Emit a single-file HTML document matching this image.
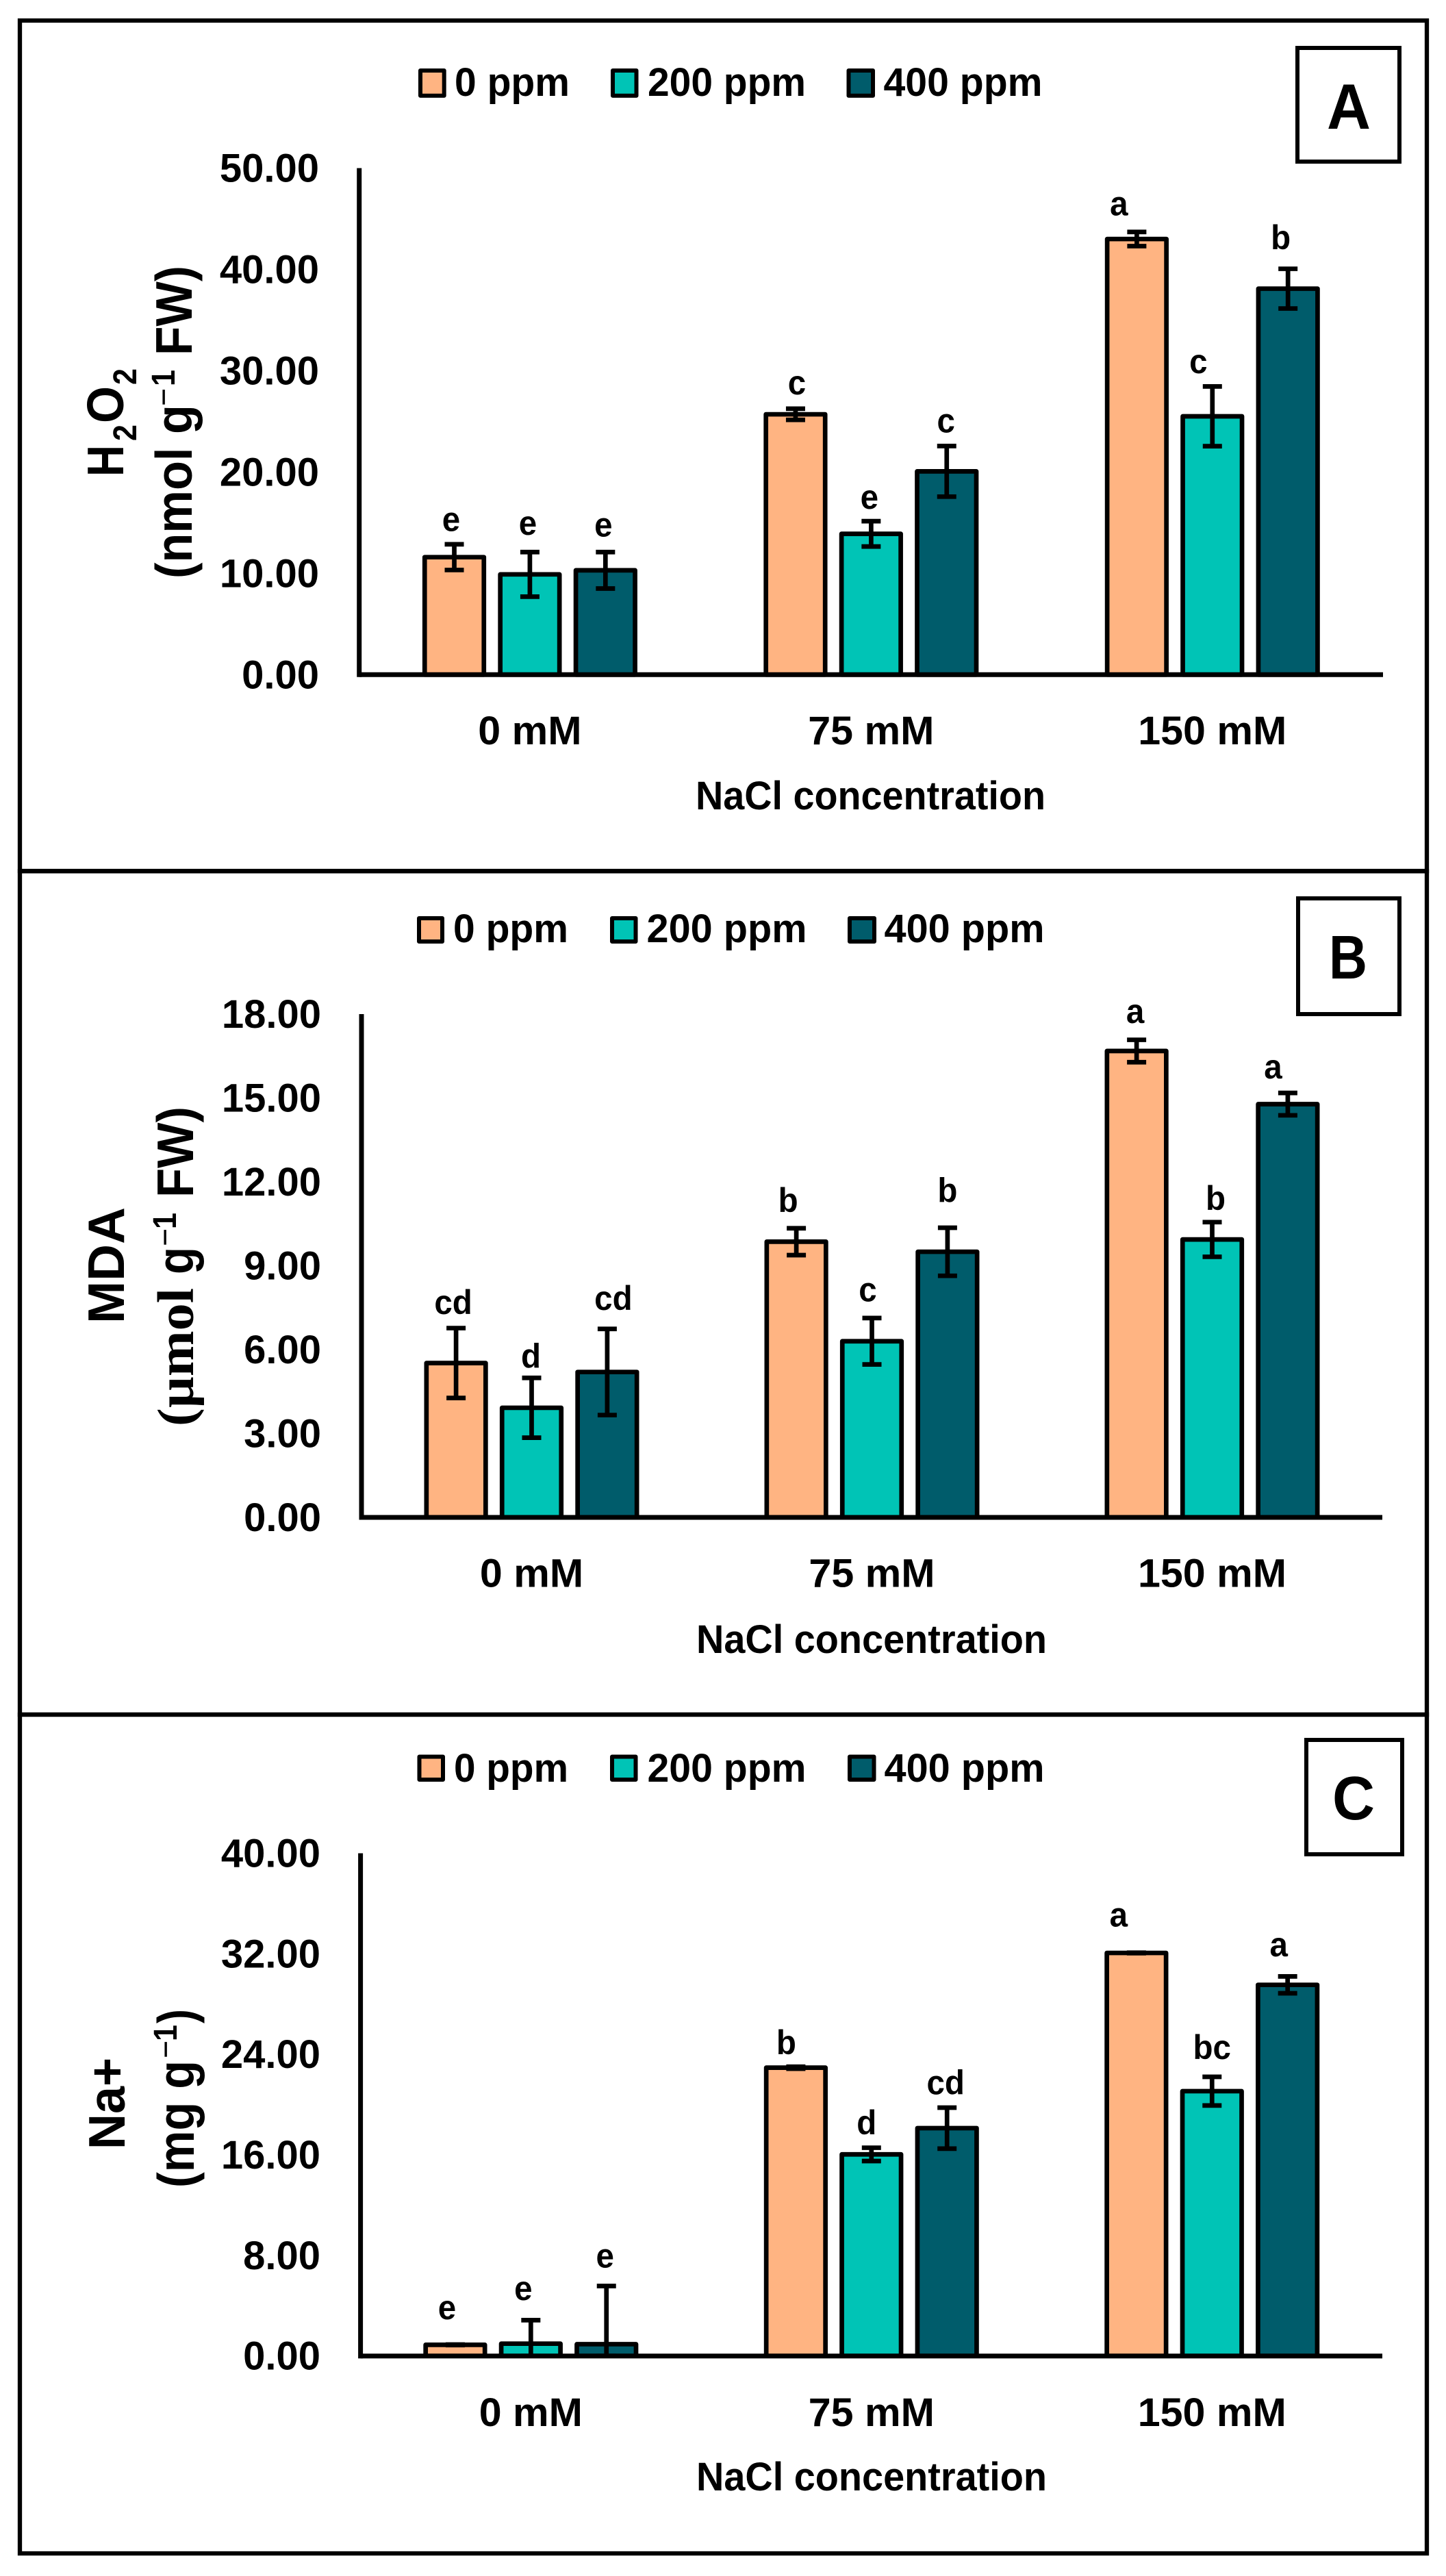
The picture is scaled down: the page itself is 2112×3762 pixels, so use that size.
<!DOCTYPE html>
<html lang="en">
<head>
<meta charset="utf-8">
<title>H2O2, MDA and Na+ under NaCl concentration</title>
<style>
html,body{margin:0;padding:0;background:#fff;}
svg{display:block;}
text{font-family:"Liberation Sans",sans-serif;font-weight:bold;fill:#000;}
</style>
</head>
<body>
<svg id="figure" xmlns="http://www.w3.org/2000/svg" width="2112" height="3762" viewBox="0 0 2112 3762"></svg>
<script>
const categories = ['0 mM', '75 mM', '150 mM'];
const seriesNames = ['0 ppm', '200 ppm', '400 ppm'];

const h2o2Ticks = ['0.00', '10.00', '20.00', '30.00', '40.00', '50.00'];
const h2o2Ppm0 = [11.6, 25.7, 43.0];
const h2o2Ppm200 = [9.9, 13.9, 25.5];
const h2o2Ppm400 = [10.3, 20.07, 38.1];
const h2o2Err0 = [1.27, 0.55, 0.7];
const h2o2Err200 = [2.2, 1.25, 2.95];
const h2o2Err400 = [1.8, 2.5, 1.96];
const h2o2Letters0 = ['e', 'c', 'a'];
const h2o2Letters200 = ['e', 'e', 'c'];
const h2o2Letters400 = ['e', 'c', 'b'];

const mdaTicks = ['0.00', '3.00', '6.00', '9.00', '12.00', '15.00', '18.00'];
const mdaPpm0 = [5.52, 9.86, 16.68];
const mdaPpm200 = [3.92, 6.3, 9.94];
const mdaPpm400 = [5.2, 9.5, 14.78];
const mdaErr0 = [1.25, 0.48, 0.4];
const mdaErr200 = [1.07, 0.83, 0.62];
const mdaErr400 = [1.54, 0.86, 0.4];
const mdaLetters0 = ['cd', 'b', 'a'];
const mdaLetters200 = ['d', 'c', 'b'];
const mdaLetters400 = ['cd', 'b', 'a'];

const naTicks = ['0.00', '8.00', '16.00', '24.00', '32.00', '40.00'];
const naPpm0 = [0.89, 22.94, 32.07];
const naPpm200 = [0.98, 16.04, 21.07];
const naPpm400 = [0.94, 18.13, 29.53];
const naErr0 = [0.02, 0.08, 0.02];
const naErr200 = [1.87, 0.53, 1.14];
const naErr400 = [4.63, 1.63, 0.67];
const naLetters0 = ['e', 'b', 'a'];
const naLetters200 = ['e', 'd', 'bc'];
const naLetters400 = ['e', 'cd', 'a'];

const colors = ['#FFB482', '#00C4B6', '#005C6B'];
const SVGNS = 'http://www.w3.org/2000/svg';
const root = document.getElementById('figure');

function shape(parent, tag, name, attrs) {
  const el = document.createElementNS(SVGNS, tag);
  
  
  for (const k in attrs) el.setAttribute(k, attrs[k]);
  parent.appendChild(el);
  return el;
}
function group(parent, name) {
  const el = document.createElementNS(SVGNS, 'g');
  
  
  parent.appendChild(el);
  return el;
}
function label(parent, name, str, x, y, size, o) {
  o = o || {};
  const el = document.createElementNS(SVGNS, 'text');
  
  
  el.setAttribute('x', x);
  el.setAttribute('y', y);
  el.setAttribute('font-size', size);
  if (o.anchor) el.setAttribute('text-anchor', o.anchor);
  if (o.weight) el.style.fontWeight = o.weight;
  if (o.family) el.style.fontFamily = o.family;
  if (o.rotate) el.setAttribute('transform', 'rotate(-90 ' + x + ' ' + y + ')');
  el.textContent = str;
  parent.appendChild(el);
  if (o.len || o.fit) {
    const len = o.len || el.getComputedTextLength() * o.fit;
    el.setAttribute('textLength', len);
    el.setAttribute('lengthAdjust', 'spacingAndGlyphs');
  }
  return el;
}

const panels = [
  {
    id: 'a', letter: 'A',
    frame: [29, 30, 2084, 1272],
    box: [1895, 70, 2044, 236], letterX: 1970, letterY: 188, letterSize: 94, letterLen: 64,
    x0: 524.7, x1: 2020, yTop: 245.5, yBottom: 985.3, yMax: 50,
    ticks: h2o2Ticks, tickRight: 466,
    values: [h2o2Ppm0, h2o2Ppm200, h2o2Ppm400],
    errors: [h2o2Err0, h2o2Err200, h2o2Err400],
    letters: [h2o2Letters0, h2o2Letters200, h2o2Letters400],
    letterDx: [[-4.5, 2, -26], [-3, -2.5, -20.5], [-3, -1, -10.5]],
    letterGap: [[19.5, 21, 24], [25.5, 18, 19.5], [22.7, 20, 28.6]],
    legendY: [103, 139.7], legendBase: 140,
    legendX: [[614, 648.7, 664, 168], [895, 929.5, 946, 231], [1239.5, 1275, 1290.5, 232]],
    catBase: 1087, titleBase: 1182, titleX: [1016, 511],
    yTitle: [
      ['h', 'H', 180, 696, 75, 46], ['sub-2', '2', 199, 644, 48, 24], ['o', 'O', 180, 618, 75, 54], ['sub-2b', '2', 199, 562, 48, 24],
      ['unit-start', '(nmol g', 280, 845, 75, 254], ['unit-minus', '\u2212', 255, 593, 48, 26, 'normal'], ['unit-one', '1', 255, 564, 48, 24], ['unit-end', 'FW)', 280, 519, 75, 131]
    ]
  },
  {
    id: 'b', letter: 'B',
    frame: [29, 1272.3, 2084, 2504],
    box: [1896, 1312, 2044, 1481], letterX: 1969, letterY: 1429, letterSize: 90, letterLen: 56,
    x0: 528, x1: 2019, yTop: 1481, yBottom: 2216, yMax: 18,
    ticks: mdaTicks, tickRight: 469,
    values: [mdaPpm0, mdaPpm200, mdaPpm400],
    errors: [mdaErr0, mdaErr200, mdaErr400],
    letters: [mdaLetters0, mdaLetters200, mdaLetters400],
    letterDx: [[-4, -12, -2], [-1, -6, 5], [9, 0, -21.5]],
    letterGap: [[20.4, 23.7, 24.5], [14.7, 24.5, 18], [27.8, 37.5, 21]],
    legendY: [1341, 1375], legendBase: 1376,
    legendX: [[612, 646, 662, 168], [894, 928.5, 944.5, 234], [1241, 1277, 1291.5, 234]],
    catBase: 2317.6, titleBase: 2414, titleX: [1017, 512],
    yTitle: [
      ['title', 'MDA', 181, 1933, 75, 170],
      ['unit-start', '(\u00B5mol', 282, 2083, 75, 202, null, '"Liberation Serif",serif'], ['unit-g', 'g', 282, 1861, 75, 40], ['unit-minus', '\u2212', 257, 1820, 48, 26, 'normal'], ['unit-one', '1', 257, 1795, 48, 24], ['unit-end', 'FW)', 282, 1749, 75, 133]
    ]
  },
  {
    id: 'c', letter: 'C',
    frame: [29, 2504, 2084, 3729],
    box: [1908, 2541, 2048, 2708], letterX: 1977, letterY: 2657, letterSize: 90, letterLen: 62,
    x0: 526.6, x1: 2019, yTop: 2706.5, yBottom: 3440.7, yMax: 40,
    ticks: naTicks, tickRight: 468,
    values: [naPpm0, naPpm200, naPpm400],
    errors: [naErr0, naErr200, naErr400],
    letters: [naLetters0, naLetters200, naLetters400],
    letterDx: [[-12, -14, -26], [-11, -7, 0], [-2, -2, -13]],
    letterGap: [[36.8, 18, 38.4], [29.4, 19.6, 26], [27, 19.6, 29.4]],
    legendY: [2565.5, 2599], legendBase: 2602,
    legendX: [[612.5, 647, 663, 167], [894, 928.5, 945.5, 232], [1241, 1276.5, 1291.5, 234]],
    catBase: 3543, titleBase: 3637, titleX: [1017, 512],
    yTitle: [
      ['title', 'Na+', 182, 3139, 75, 134],
      ['unit-start', '(mg g', 283, 3195, 75, 186], ['unit-minus', '\u2212', 258, 3006, 48, 26, 'normal'], ['unit-one', '1', 258, 2981, 48, 24], ['unit-end', ')', 283, 2955, 75, 21]
    ]
  }
];

panels.forEach(function (p) {
  const g = group(root, 'panel-' + p.id);
  const yScale = function (v) { return p.yBottom - (v / p.yMax) * (p.yBottom - p.yTop); };
  const groupStep = (p.x1 - p.x0) / categories.length;
  const barStep = 110.4;
  const barWidth = 86.5;
  const xScale = function (c, s) { return p.x0 + groupStep * (c + 0.5) + barStep * (s - 1); };

  shape(g, 'rect', 'panel-frame', {
    x: p.frame[0], y: p.frame[1], width: p.frame[2] - p.frame[0], height: p.frame[3] - p.frame[1],
    fill: 'none', stroke: '#000', 'stroke-width': 6.3
  });

  // legend
  seriesNames.forEach(function (name, s) {
    const lx = p.legendX[s];
    shape(g, 'rect', 'legend-swatch-' + s, {
      x: lx[0], y: p.legendY[0], width: lx[1] - lx[0], height: p.legendY[1] - p.legendY[0],
      fill: colors[s], stroke: '#000', 'stroke-width': 6, 'stroke-linejoin': 'round'
    });
    label(g, 'legend-label-' + s, name, lx[2], p.legendBase, 58, { len: lx[3] });
  });

  // panel letter box
  shape(g, 'rect', 'panel-letter-box', {
    x: p.box[0], y: p.box[1], width: p.box[2] - p.box[0], height: p.box[3] - p.box[1],
    fill: 'none', stroke: '#000', 'stroke-width': 6
  });
  label(g, 'panel-letter', p.letter, p.letterX, p.letterY, p.letterSize, { anchor: 'middle', len: p.letterLen });

  // y tick labels
  p.ticks.forEach(function (t) {
    label(g, 'y-tick-label', t, p.tickRight, yScale(parseFloat(t)) + 20, 58, { anchor: 'end', fit: 1.0 });
  });

  // y axis title pieces
  p.yTitle.forEach(function (t) {
    label(g, 'y-axis-title-' + t[0], t[1], t[2], t[3], t[4], { rotate: true, len: t[5], weight: t[6] || null, family: t[7] || null });
  });

  // bars
  categories.forEach(function (cat, c) {
    seriesNames.forEach(function (name, s) {
      const v = p.values[s][c];
      const cx = xScale(c, s);
      shape(g, 'rect', 'bar-' + cat.replace(' ', '') + '-' + name.replace(' ', ''), {
        x: cx - barWidth / 2, y: yScale(v), width: barWidth, height: yScale(0) - yScale(v),
        fill: colors[s], stroke: '#000', 'stroke-width': 6.7, 'stroke-linejoin': 'round'
      });
    });
  });

  // error bars + significance letters
  categories.forEach(function (cat, c) {
    seriesNames.forEach(function (name, s) {
      const v = p.values[s][c];
      const e = p.errors[s][c];
      const cx = xScale(c, s);
      const hi = yScale(v + e);
      const lo = yScale(Math.max(0, v - e));
      shape(g, 'line', 'error-bar-stem', { x1: cx, x2: cx, y1: hi, y2: lo, stroke: '#000', 'stroke-width': 6.7 });
      shape(g, 'line', 'error-bar-cap-top', { x1: cx - 14, x2: cx + 14, y1: hi, y2: hi, stroke: '#000', 'stroke-width': 6.7 });
      shape(g, 'line', 'error-bar-cap-bottom', { x1: cx - 14, x2: cx + 14, y1: lo, y2: lo, stroke: '#000', 'stroke-width': 6.7 });
      label(g, 'significance-letter', p.letters[s][c], cx + p.letterDx[s][c], hi - p.letterGap[s][c], 50, { anchor: 'middle', fit: 0.95 });
    });
  });

  // axes
  shape(g, 'line', 'y-axis', { x1: p.x0, x2: p.x0, y1: yScale(p.yMax), y2: p.yBottom + 3.5, stroke: '#000', 'stroke-width': 7 });
  shape(g, 'line', 'x-axis', { x1: p.x0, x2: p.x1, y1: p.yBottom, y2: p.yBottom, stroke: '#000', 'stroke-width': 7 });

  // category labels
  categories.forEach(function (cat, c) {
    label(g, 'x-category-label', cat, xScale(c, 1), p.catBase, 58, { anchor: 'middle', fit: 1.02 });
  });
  label(g, 'x-axis-title', 'NaCl concentration', p.titleX[0], p.titleBase, 58, { len: p.titleX[1] });
});
</script>
</body>
</html>
